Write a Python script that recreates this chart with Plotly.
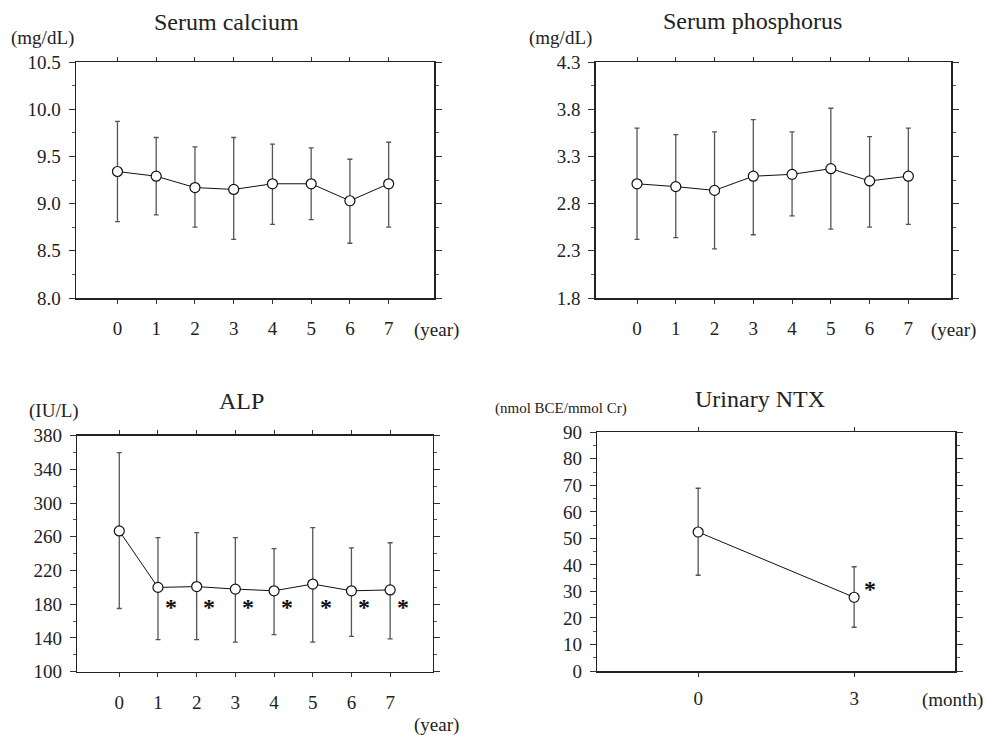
import plotly.graph_objects as go

# ---------------- data ----------------
years = [0, 1, 2, 3, 4, 5, 6, 7]
year_labels = ["0", "1", "2", "3", "4", "5", "6", "7"]

ca_mean = [9.34, 9.29, 9.17, 9.15, 9.21, 9.21, 9.03, 9.21]
ca_upper = [9.87, 9.70, 9.60, 9.70, 9.63, 9.59, 9.47, 9.65]
ca_lower = [8.81, 8.88, 8.75, 8.62, 8.78, 8.83, 8.58, 8.75]

p_mean = [3.01, 2.98, 2.94, 3.09, 3.11, 3.17, 3.04, 3.09]
p_upper = [3.60, 3.53, 3.56, 3.69, 3.56, 3.81, 3.51, 3.60]
p_lower = [2.42, 2.44, 2.32, 2.47, 2.67, 2.53, 2.55, 2.58]

alp_mean = [267, 200, 201, 198, 196, 204, 196, 197]
alp_upper = [360, 259, 265, 259, 246, 271, 247, 253]
alp_lower = [175, 138, 138, 135, 144, 135, 142, 139]
alp_sig = [False, True, True, True, True, True, True, True]

months = [0, 3]
month_labels = ["0", "3"]
ntx_mean = [52.4, 27.8]
ntx_upper = [68.9, 39.3]
ntx_lower = [36.1, 16.5]
ntx_sig = [False, True]

titles = ["Serum calcium", "Serum phosphorus", "ALP", "Urinary NTX"]
units = ["(mg/dL)", "(mg/dL)", "(IU/L)", "(nmol BCE/mmol Cr)"]

FONT = "Liberation Serif"
TXT = "#222222"
W, H = 985, 735

fig = go.Figure()


def px_x(p):
    return p / W


def px_y(p):
    return 1 - p / H


def add_series(x, mean, upper, lower, xa, ya):
    fig.add_trace(go.Scatter(
        x=x, y=mean, xaxis=xa, yaxis=ya, mode="lines+markers",
        line=dict(color="#111111", width=1),
        marker=dict(symbol="circle", size=10, color="white",
                    line=dict(color="#111111", width=1.2)),
        error_y=dict(type="data", symmetric=False,
                     array=[u - m for u, m in zip(upper, mean)],
                     arrayminus=[m - l for m, l in zip(mean, lower)],
                     color="#555555", thickness=1.3, width=2.5),
        showlegend=False, hoverinfo="skip", cliponaxis=False,
    ))


add_series(years, ca_mean, ca_upper, ca_lower, "x", "y")
add_series(years, p_mean, p_upper, p_lower, "x2", "y2")
add_series(years, alp_mean, alp_upper, alp_lower, "x3", "y3")
add_series(months, ntx_mean, ntx_upper, ntx_lower, "x4", "y4")

# panel geometry (pixel boxes)
boxes = [
    (76, 434, 62, 298),
    (595.7, 951, 62, 298),
    (77.3, 432.7, 435.7, 671.7),
    (597.3, 955, 432.3, 671),
]
xranges = [[-1.07, 8.17], [-1.066, 8.10], [-1.085, 8.10], [-1.94, 4.94]]
yranges = [[8.0, 10.5], [1.8, 4.3], [100, 380], [0, 90]]
ydticks = [0.5, 0.5, 40, 10]
ytick0 = [8.0, 1.8, 100, 0]
ymin = [0.25, 0.25, 20, 5]
yfmt = [".1f", ".1f", "d", "d"]
xt_vals = [years, years, years, months]
xt_text = [year_labels, year_labels, year_labels, month_labels]
xstand = [9, 9, 9, 6]

layout = {}
for i in range(4):
    l, r, t, b = boxes[i]
    sfx = "" if i == 0 else str(i + 1)
    layout["xaxis" + sfx] = dict(
        domain=[px_x(l), px_x(r)], range=xranges[i], anchor="y" + sfx,
        tickmode="array", tickvals=xt_vals[i], ticktext=xt_text[i],
        ticks="outside", ticklen=4, tickwidth=1, tickcolor="#333333",
        showline=True, linecolor="#222222", linewidth=1.5, mirror="ticks",
        showgrid=False, zeroline=False, ticklabelstandoff=xstand[i],
        automargin=False,
        tickfont=dict(family=FONT, size=19, color=TXT), fixedrange=True,
    )
    layout["yaxis" + sfx] = dict(
        domain=[px_y(b), px_y(t)], range=yranges[i], anchor="x" + sfx,
        tickmode="linear", tick0=ytick0[i], dtick=ydticks[i], tickformat=yfmt[i],
        ticks="outside", ticklen=6, tickwidth=1, tickcolor="#333333",
        minor=dict(ticks="outside", ticklen=3, dtick=ymin[i], tick0=ytick0[i],
                   tickcolor="#555555", showgrid=False),
        showline=True, linecolor="#222222", linewidth=1.5, mirror="ticks",
        showgrid=False, zeroline=False, ticklabelstandoff=4,
        automargin=False,
        tickfont=dict(family=FONT, size=19, color=TXT), fixedrange=True,
    )

annotations = []
# titles
title_pos = [(226.7, 22), (752.5, 21), (241.7, 401), (760, 399)]
for (xp, yp), t in zip(title_pos, titles):
    annotations.append(dict(text=t, x=px_x(xp), y=px_y(yp), xref="paper", yref="paper",
                            xanchor="center", yanchor="middle", showarrow=False,
                            font=dict(family=FONT, size=24, color=TXT)))
# units
unit_pos = [(42, 38, 19), (560, 38, 19), (53.5, 411, 19), (561, 408, 15)]
for (xp, yp, fs), u in zip(unit_pos, units):
    annotations.append(dict(text=u, x=px_x(xp), y=px_y(yp), xref="paper", yref="paper",
                            xanchor="center", yanchor="middle", showarrow=False,
                            font=dict(family=FONT, size=fs, color=TXT)))
# x unit labels
xunit = [("(year)", 436.5, 330), ("(year)", 953, 330), ("(year)", 436, 725), ("(month)", 952, 700)]
for t, xp, yp in xunit:
    annotations.append(dict(text=t, x=px_x(xp), y=px_y(yp), xref="paper", yref="paper",
                            xanchor="center", yanchor="middle", showarrow=False,
                            font=dict(family=FONT, size=19, color=TXT)))
# significance asterisks
for xv, sig in zip(years, alp_sig):
    if sig:
        annotations.append(dict(text="<b>*</b>", x=xv + 0.33, y=181.5, xref="x3", yref="y3",
                                xanchor="center", yanchor="middle", showarrow=False,
                                yshift=-4,
                                font=dict(family=FONT, size=24, color="#111111")))
for xv, sig in zip(months, ntx_sig):
    if sig:
        annotations.append(dict(text="<b>*</b>", x=xv + 0.31, y=32.4, xref="x4", yref="y4",
                                xanchor="center", yanchor="middle", showarrow=False,
                                yshift=-4,
                                font=dict(family=FONT, size=24, color="#111111")))

fig.update_layout(
    width=W, height=H,
    margin=dict(l=0, r=0, t=0, b=0, pad=0, autoexpand=False),
    paper_bgcolor="white", plot_bgcolor="white",
    annotations=annotations, showlegend=False,
    font=dict(family=FONT, color=TXT),
    **layout,
)

fig.write_html(
    "out.html",
    config={"displayModeBar": False, "staticPlot": True},
    post_script="document.body.style.margin='0';document.body.style.padding='0';"
                "document.body.style.overflow='hidden';",
)
